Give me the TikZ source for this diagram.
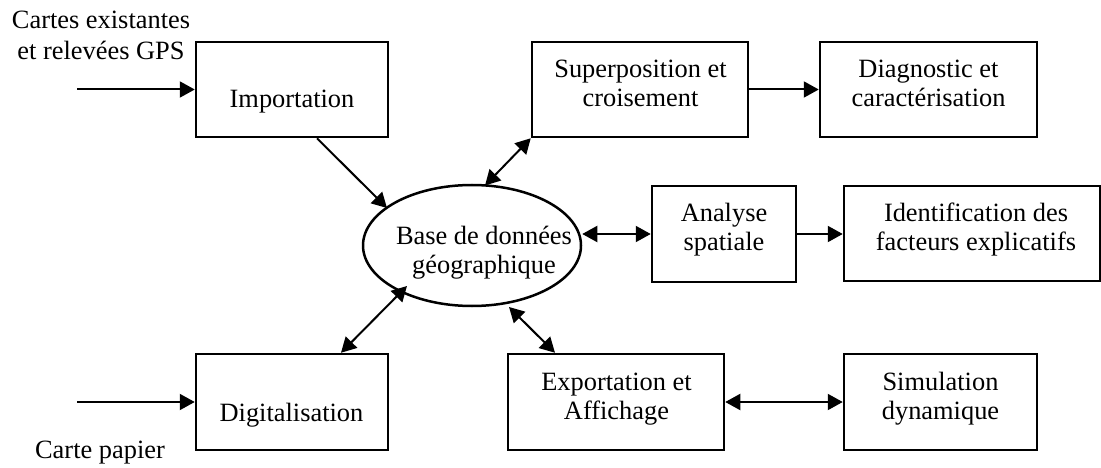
\documentclass[tikz,border=0pt]{standalone}
\usepackage{fontspec}
\setmainfont{Liberation Serif}
\usetikzlibrary{shapes.geometric,arrows.meta,calc}
\newcommand\twoline[2]{\begin{tabular}[t]{@{}c@{}}#1\\#2\end{tabular}}
\begin{document}
\begin{tikzpicture}[x=1pt,y=-1pt,
  boxnode/.style={draw, line width=2.5pt, rectangle, inner sep=0pt, minimum height=95pt},
  txt/.style={anchor=base, inner sep=0pt, font=\fontsize{26.4}{29}\selectfont},
  conn/.style={line width=2pt, -{Triangle[length=15pt,width=16pt]}},
  dconn/.style={line width=2pt, {Triangle[length=15pt,width=16pt]}-{Triangle[length=15pt,width=16pt]}}]
\useasboundingbox (0,0) rectangle (1101,468);

% boxes
\node[boxnode, minimum width=192pt] (imp) at (292,89.5) {};
\node[boxnode, minimum width=216pt] (sup) at (640,89.5) {};
\node[boxnode, minimum width=217pt] (dia) at (928.5,89.5) {};
\node[boxnode, minimum width=144pt, minimum height=96pt] (ana) at (724,234) {};
\node[boxnode, minimum width=256pt] (ide) at (972,233.5) {};
\node[boxnode, minimum width=192pt, minimum height=96pt] (dig) at (292,402) {};
\node[boxnode, minimum width=216pt, minimum height=96pt] (exp) at (616,402) {};
\node[boxnode, minimum width=193pt, minimum height=96pt] (sim) at (940.5,402) {};
\node[draw, line width=2.5pt, ellipse, inner sep=0pt, minimum width=218pt, minimum height=121pt] (ell) at (472,245.5) {};

% texts
\node[txt] (tin1) at (101,29) {\begin{tabular}[t]{@{}c@{}}Cartes existantes\\[2pt]et relevées GPS\end{tabular}};
\node[txt] (tin2) at (100,458) {Carte papier};
\node[txt] (timp) at (292,108) {Importation};
\node[txt] (tsup) at (640.5,78) {\twoline{Superposition et}{croisement}};
\node[txt] (tdia) at (928.5,78) {\twoline{Diagnostic et}{caractérisation}};
\node[txt] (tana) at (724,222) {\twoline{Analyse}{spatiale}};
\node[txt] (tide) at (976,222) {\twoline{Identification des}{facteurs explicatifs}};
\node[txt] (tell) at (484,244) {\twoline{Base de données}{géographique}};
\node[txt] (tdig) at (291.5,421) {Digitalisation};
\node[txt] (texp) at (616.5,390) {\twoline{Exportation et}{Affichage}};
\node[txt] (tsim) at (940.5,390) {\twoline{Simulation}{dynamique}};

% connectors
\coordinate (src1) at (77,89.5);
\coordinate (src2) at (77,402);
\draw[conn] (src1) -- (imp.west);
\draw[conn] (src2) -- (dig.west);
\draw[conn] ($(imp.south)+(25,0)$) -- ($(ell.center)+(-85,-37.5)$);
\draw[dconn] (sup.south west) -- ($(ell.center)+(13,-60)$);
\draw[dconn] (ell.east |- ana.west) -- (ana.west);
\draw[conn] (sup.east) -- (dia.west);
\draw[conn] (ana.east) -- (ana.east -| ide.west);
\draw[dconn] ($(dig.north)+(49,0)$) -- ($(ell.center)+(-65,40.5)$);
\draw[dconn] ($(exp.north)+(-61,0)$) -- ($(ell.center)+(37,61.5)$);
\draw[dconn] (exp.east) -- (sim.west);
\end{tikzpicture}
\end{document}
